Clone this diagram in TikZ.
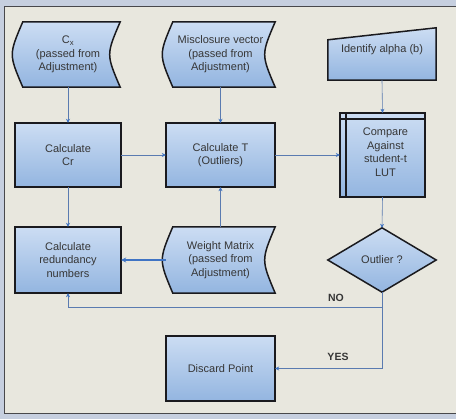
\documentclass[tikz,border=0pt]{standalone}
\usepackage{fontspec}
\setmainfont{Liberation Sans}
\usetikzlibrary{arrows.meta,shapes.geometric}
\definecolor{outerbg}{HTML}{C6CFDF}
\definecolor{panelbg}{HTML}{E8E7DE}
\definecolor{boxtop}{HTML}{CCDDF3}
\definecolor{boxbot}{HTML}{93B5E0}
\definecolor{edgec}{HTML}{1A1A1E}
\definecolor{linec}{HTML}{5A7BB0}
\definecolor{arrc}{HTML}{3F74C4}
\definecolor{txtc}{HTML}{363636}
\tikzset{
  anchorbox/.style={minimum width=#1, inner sep=0pt, align=center, text=txtc,
    font=\fontsize{11}{13.5}\selectfont},
  shapefill/.style={draw=edgec, line width=1.5pt, top color=boxtop, bottom color=boxbot},
  conn/.style={draw=linec, line width=0.6pt, -{Stealth[length=4pt,width=4pt,color=arrc]}},
  thick conn/.style={draw=arrc, line width=1.1pt, -{Stealth[length=5pt,width=5pt,color=arrc]}},
  lbl/.style={font=\fontsize{10.5}{12}\selectfont\bfseries, text=txtc}
}
\newcommand\sdshape[1]{%
  \path[shapefill] ([xshift=7pt]#1.north west) -- (#1.north east)
    .. controls ([xshift=-14pt]#1.east) .. (#1.south east)
    -- ([xshift=7pt]#1.south west)
    .. controls ([xshift=-7pt]#1.west) .. ([xshift=7pt]#1.north west) -- cycle;}
\newcommand\boxshape[1]{%
  \path[shapefill] (#1.north west) rectangle (#1.south east);}
\begin{document}
\begin{tikzpicture}[x=1pt,y=-1pt]
\useasboundingbox (0,0) rectangle (456,419);
\fill[outerbg] (0,0) rectangle (456,419);
\path[fill=panelbg, draw=edgec!80, line width=1pt] (4.5,6.5) rectangle (460,413.5);

% frames of the nodes
\path (68,54.5) node[anchorbox=104pt, minimum height=65pt] (cx) {};
\path (220.5,54.5) node[anchorbox=109pt, minimum height=65pt] (mv) {};
\path (382,54) node[anchorbox=108pt, minimum height=52pt] (al) {};
\path (68,155) node[anchorbox=106pt, minimum height=64pt] (cr) {};
\path (220.5,155) node[anchorbox=109pt, minimum height=64pt] (ct) {};
\path (382.5,155) node[anchorbox=85pt, minimum height=84pt] (cmp) {};
\path (68,260) node[anchorbox=106pt, minimum height=66pt] (rd) {};
\path (220.5,260) node[anchorbox=109pt, minimum height=66pt] (wm) {};
\path (382,260) node[diamond, draw=none, minimum width=108pt, minimum height=64pt, inner sep=0pt, aspect=1.7] (out) {};
\path (220.5,368.5) node[anchorbox=109pt, minimum height=65pt] (dp) {};

\sdshape{cx}
\sdshape{mv}
\sdshape{wm}
\boxshape{cr}
\boxshape{ct}
\boxshape{rd}
\boxshape{dp}
\boxshape{cmp}
\draw[edgec, line width=1.5pt] ([xshift=6pt]cmp.north west) -- ([xshift=6pt]cmp.south west)
  ([yshift=-6pt]cmp.north west) -- ([yshift=-6pt]cmp.north east);
\path[shapefill] ([yshift=-12pt]al.north west) -- (al.north east) -- (al.south east) -- (al.south west) -- cycle;
\path[shapefill] (out.west) -- (out.north) -- (out.east) -- (out.south) -- cycle;

% texts
\node[anchorbox=100pt] (cxt) at (cx.center) {C\textsubscript{x}\\(passed from\\Adjustment)};
\node[anchorbox=100pt] (mvt) at (mv.center) {Misclosure vector\\(passed from\\Adjustment)};
\node[anchorbox=100pt] (alt) at ([yshift=4pt]al.center) {Identify alpha (b)};
\node[anchorbox=100pt] (crt) at (cr.center) {Calculate\\Cr};
\node[anchorbox=100pt] (ctt) at (ct.center) {Calculate T\\(Outliers)};
\node[anchorbox=80pt] (cmpt) at ([xshift=3pt,yshift=3pt]cmp.center) {Compare\\Against\\student-t\\LUT};
\node[anchorbox=100pt] (rdt) at (rd.center) {Calculate\\redundancy\\numbers};
\node[anchorbox=100pt] (wmt) at (wm.center) {Weight Matrix\\(passed from\\Adjustment)};
\node[anchorbox=100pt] (outt) at (out.center) {Outlier ?};
\node[anchorbox=100pt] (dpt) at (dp.center) {Discard Point};

% connectors
\draw[conn] (cx.south) -- (cr.north);
\draw[conn] (mv.south) -- (ct.north);
\draw[conn] (cr.east) -- (ct.west);
\draw[conn] (ct.east) -- (cmp.west);
\draw[conn] (al.south) -- (cmp.north);
\draw[conn] (cr.south) -- (rd.north);
\draw[conn] (wm.north) -- (ct.south);
\draw[thick conn] (wm.west) -- (rd.east);
\draw[conn] (cmp.south) -- (out.north);
\coordinate (nobend) at (382,307);
\draw[conn] (out.south) -- (nobend) -| (rd.south);
\draw[conn] (out.south) |- (dp.east);
\node[lbl] (nol) at (336,298) {NO};
\node[lbl] (yesl) at (338,357) {YES};
\end{tikzpicture}
\end{document}
